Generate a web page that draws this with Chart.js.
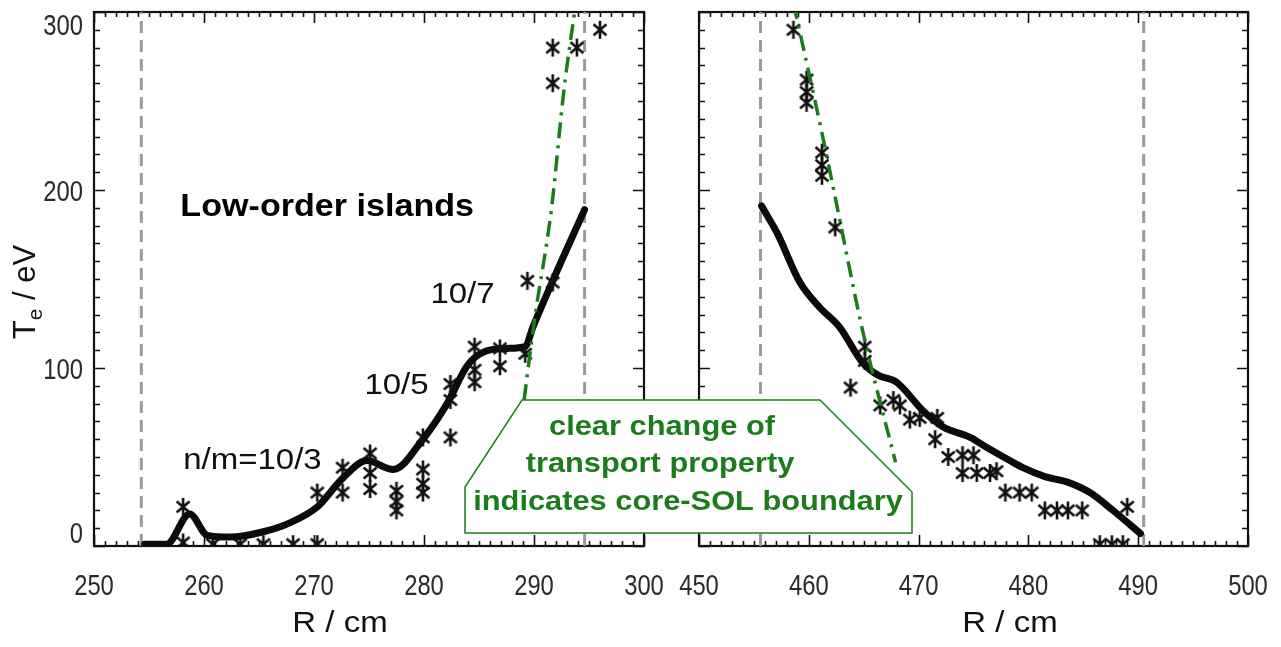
<!DOCTYPE html>
<html>
<head>
<meta charset="utf-8">
<script src="https://cdn.jsdelivr.net/npm/chart.js@4"></script>
<style>
  html, body { margin: 0; padding: 0; background: #ffffff; }
  #wrap { position: relative; width: 1281px; height: 647px; }
  #wrap canvas { position: absolute; left: 0; top: 0; }
</style>
</head>
<body>
<div id="wrap">
  <canvas id="left-chart" width="1281" height="647"></canvas>
  <canvas id="right-chart" width="1281" height="647"></canvas>
</div>
<script>
// ---- data (R in cm, Te in eV) ----
// left (high-field side) panel
const leftFitR  = [254.6, 256.6, 258.7, 260.3, 262.4, 265.4, 267.8, 270.3, 272.6, 274.8, 277.2, 279.9, 282.1, 283.9, 285.1, 287.5, 289.2, 289.9, 291.7, 294.6];
const leftFitTe = [1, 1, 18, 6, 5, 8, 13, 22, 38, 48, 43, 60, 80, 101, 108, 111, 112, 123, 149, 189];

const leftPtsR  = [258.1, 258.1, 260.8, 263.3, 265.4, 268.1, 270.3, 270.3, 272.6, 272.6, 275.1, 275.1, 275.1, 277.5, 277.5, 277.5,
                   279.9, 279.9, 279.9, 279.9, 282.4, 282.4, 282.4, 284.6, 284.6, 284.6, 286.9, 286.9, 289.2, 289.4, 291.7, 291.7, 291.7, 293.9, 296.0];
const leftPtsTe = [22, 2, 1, 1, 1, 1, 1, 30, 44, 30, 52, 41, 32, 31, 25, 20,
                   61, 43, 35, 30, 91, 82, 61, 112, 99, 92, 111, 101, 108, 149, 148, 260, 280, 280, 290];

const leftEdgeR  = [289.1, 290.0, 291.6, 292.7, 293.8];
const leftEdgeTe = [82, 125, 190, 255, 305];

const leftBounds = [254.3, 294.6];

// right (low-field side) panel
const rightFitR  = [455.7, 457.1, 459.2, 461.0, 462.8, 464.9, 466.3, 468.0, 470.4, 472.2, 474.7, 476.3, 478.3, 479.5, 481.5, 483.5, 485.6, 487.7, 490.2];
const rightFitTe = [191, 176, 148, 134, 123, 103, 96, 92, 76, 67, 61, 55, 48, 44, 39, 36, 30, 20, 7];

const rightPtsR  = [458.6, 459.8, 459.8, 459.8, 461.2, 461.2, 461.2, 462.4, 463.8, 465.1, 465.1, 466.5, 467.7, 468.3, 469.2, 470.1,
                    471.7, 471.5, 472.7, 474.0, 475.0, 474.0, 475.3, 476.5, 477.1, 477.9, 479.2, 480.3, 481.5, 482.6, 483.6, 484.9,
                    486.5, 487.6, 488.6, 489.0];
const rightPtsTe = [290, 262, 255, 249, 221, 214, 208, 179, 89, 112, 104, 79, 82, 79, 71, 72,
                    72, 60, 50, 51, 51, 41, 41, 41, 42, 30, 30, 30, 20, 20, 20, 20,
                    1, 1, 1, 22];

const rightEdgeR  = [458.6, 461.2, 462.4, 464.9, 467.9];
const rightEdgeTe = [305, 232, 196, 121, 47];

const rightBounds = [455.6, 490.5];

// axes
const leftRange  = [250, 300];
const rightRange = [450, 500];
const teRange    = [0, 300];

// ---- helpers ----
const GREEN = '#1a7d1a';
const TEXT_FONT = "'Liberation Sans', Arial, sans-serif";

function toXY(xs, ys) {
    return xs.map((x, i) => ({ x: x, y: ys[i] }));
}

// IDL-like asterisk symbol (vertical bar + cross)
function makeAsterisk() {
    const c = document.createElement('canvas');
    c.width = 16; c.height = 20;
    const g = c.getContext('2d');
    g.strokeStyle = '#111';
    g.lineWidth = 2.6;
    g.beginPath();
    g.moveTo(8, 1); g.lineTo(8, 19);
    g.moveTo(1.5, 4.5); g.lineTo(14.5, 15.5);
    g.moveTo(14.5, 4.5); g.lineTo(1.5, 15.5);
    g.stroke();
    return c;
}
const asterisk = makeAsterisk();

// text in the figure is stretched horizontally, so scale it a bit
function drawText(ctx, text, x, y, font, color, align, stretch) {
    ctx.save();
    ctx.translate(x, y);
    ctx.scale(stretch || 1.1, 1);
    ctx.font = font;
    ctx.fillStyle = color;
    ctx.textAlign = align || 'center';
    ctx.textBaseline = 'middle';
    ctx.fillText(text, 0, 0);
    ctx.restore();
}

// box frame with inward ticks on all four sides + narrow tick labels
const frameTicks = {
    id: 'frameTicks',
    beforeDatasetsDraw(chart, args, opts) {
        const { ctx, chartArea: a, scales: { x, y } } = chart;
        ctx.save();
        ctx.strokeStyle = '#111';
        ctx.lineWidth = 1.6;
        ctx.beginPath();
        for (let v = x.min; v <= x.max + 1e-6; v += 1) {
            const px = Math.round(x.getPixelForValue(v)) + 0.5;
            const len = Math.round(v) % 10 === 0 ? 11 : 5;
            ctx.moveTo(px, a.bottom); ctx.lineTo(px, a.bottom - len);
            ctx.moveTo(px, a.top); ctx.lineTo(px, a.top + len);
        }
        for (let v = y.min; v <= y.max + 1e-6; v += 10) {
            const py = Math.round(y.getPixelForValue(v)) + 0.5;
            const len = Math.round(v) % 100 === 0 ? 11 : 6;
            ctx.moveTo(a.left, py); ctx.lineTo(a.left + len, py);
            ctx.moveTo(a.right, py); ctx.lineTo(a.right - len, py);
        }
        ctx.stroke();
        ctx.lineWidth = 2.2;
        ctx.strokeRect(a.left, a.top, a.right - a.left, a.bottom - a.top);
        ctx.restore();

        // tick labels from the library's own tick list
        const f = `29px ${TEXT_FONT}`;
        x.ticks.forEach(t => {
            drawText(ctx, String(t.value), x.getPixelForValue(t.value), a.bottom + 41, f, '#2a2a2a', 'center', 0.82);
        });
        if (opts.yLabels) {
            y.ticks.forEach(t => {
                let off = 3;
                if (t.value === y.max) off = 15;
                if (t.value === y.min) off = -11;
                drawText(ctx, String(t.value), a.left - 11, y.getPixelForValue(t.value) + off, f, '#2a2a2a', 'right', 0.82);
            });
        }
    }
};

// annotations of the left panel
const leftNotes = {
    id: 'leftNotes',
    afterDraw(chart) {
        const { ctx, scales: { x, y } } = chart;
        drawText(ctx, 'Low-order islands', x.getPixelForValue(271.2), y.getPixelForValue(190), `bold 31px ${TEXT_FONT}`, '#000');
        drawText(ctx, 'n/m=10/3', x.getPixelForValue(264.4), y.getPixelForValue(48), `30px ${TEXT_FONT}`, '#111');
        drawText(ctx, '10/5', x.getPixelForValue(277.5), y.getPixelForValue(90), `30px ${TEXT_FONT}`, '#111');
        drawText(ctx, '10/7', x.getPixelForValue(283.5), y.getPixelForValue(141), `30px ${TEXT_FONT}`, '#111');

        // axis titles
        drawText(ctx, 'R / cm', 340, 624, `30px ${TEXT_FONT}`, '#111');

        // Te / eV, rotated, with subscript
        ctx.save();
        ctx.translate(35, 292);
        ctx.rotate(-Math.PI / 2);
        ctx.fillStyle = '#111';
        ctx.textBaseline = 'alphabetic';
        ctx.font = `31px ${TEXT_FONT}`;
        const wT = ctx.measureText('T').width;
        ctx.font = `21px ${TEXT_FONT}`;
        const wE = ctx.measureText('e').width;
        ctx.font = `31px ${TEXT_FONT}`;
        const wRest = ctx.measureText(' / eV').width;
        let cx = -(wT + wE + wRest) / 2;
        ctx.fillText('T', cx, 0);
        cx += wT;
        ctx.font = `21px ${TEXT_FONT}`;
        ctx.fillText('e', cx, 7);
        cx += wE;
        ctx.font = `31px ${TEXT_FONT}`;
        ctx.fillText(' / eV', cx, 0);
        ctx.restore();
    }
};

// green call-out box spanning both panels (drawn by the top chart)
const boundaryNote = {
    id: 'boundaryNote',
    afterDraw(chart) {
        const ctx = chart.ctx;
        ctx.save();
        ctx.beginPath();
        ctx.moveTo(465, 533);
        ctx.lineTo(465, 487);
        ctx.lineTo(522, 400);
        ctx.lineTo(820, 400);
        ctx.lineTo(912, 492);
        ctx.lineTo(912, 533);
        ctx.closePath();
        ctx.fillStyle = '#ffffff';
        ctx.fill();
        ctx.strokeStyle = GREEN;
        ctx.lineWidth = 1.5;
        ctx.stroke();
        ctx.restore();

        const f = `bold 28px ${TEXT_FONT}`;
        drawText(ctx, 'clear change of', 662, 427, f, GREEN);
        drawText(ctx, 'transport property', 660, 464, f, GREEN);
        drawText(ctx, 'indicates core-SOL boundary', 688, 502, f, GREEN);

        drawText(ctx, 'R / cm', 1010, 624, `30px ${TEXT_FONT}`, '#111');
    }
};

function boundLine(r) {
    return {
        type: 'line',
        data: [{ x: r, y: teRange[0] }, { x: r, y: teRange[1] }],
        borderColor: '#9a9a9a',
        borderWidth: 3,
        borderDash: [12, 7],
        pointRadius: 0,
        order: 4
    };
}

function buildDatasets(fitR, fitTe, ptsR, ptsTe, edgeR, edgeTe, bounds) {
    return [
        boundLine(bounds[0]),
        boundLine(bounds[1]),
        {
            type: 'line',
            data: toXY(fitR, fitTe),
            borderColor: '#0b0b0b',
            borderWidth: 7,
            borderCapStyle: 'round',
            borderJoinStyle: 'round',
            cubicInterpolationMode: 'monotone',
            pointRadius: 0,
            order: 3
        },
        {
            type: 'scatter',
            data: toXY(ptsR, ptsTe),
            pointStyle: asterisk,
            pointRadius: 8,
            clip: 0,
            order: 2
        },
        {
            type: 'line',
            data: toXY(edgeR, edgeTe),
            borderColor: GREEN,
            borderWidth: 3.5,
            borderDash: [16, 7, 3, 7],
            cubicInterpolationMode: 'monotone',
            pointRadius: 0,
            clip: 0,
            order: 1
        }
    ];
}

// chart area is pinned: top 12, bottom 546, left/right given per panel
function buildOptions(range, areaLeft, padRight, showYLabels) {
    return {
        responsive: false,
        animation: false,
        events: [],
        layout: { padding: { top: 12, right: padRight, left: 0, bottom: 0 } },
        plugins: {
            legend: { display: false },
            tooltip: { enabled: false },
            frameTicks: { yLabels: showYLabels }
        },
        scales: {
            x: {
                type: 'linear',
                min: range[0],
                max: range[1],
                grid: { display: false, drawTicks: false },
                border: { display: false },
                ticks: { display: false, stepSize: 10, autoSkip: false },
                afterFit(scale) {
                    scale.height = 101;
                    scale.paddingLeft = 0;
                    scale.paddingRight = 0;
                }
            },
            y: {
                type: 'linear',
                min: teRange[0],
                max: teRange[1],
                grid: { display: false, drawTicks: false },
                border: { display: false },
                ticks: { display: false, stepSize: 100 },
                afterFit(scale) {
                    scale.width = areaLeft;
                    scale.paddingTop = 0;
                    scale.paddingBottom = 0;
                }
            }
        }
    };
}

const leftChart = new Chart(document.getElementById('left-chart'), {
    type: 'scatter',
    data: { datasets: buildDatasets(leftFitR, leftFitTe, leftPtsR, leftPtsTe, leftEdgeR, leftEdgeTe, leftBounds) },
    options: buildOptions(leftRange, 94, 637, true),
    plugins: [frameTicks, leftNotes]
});

const rightChart = new Chart(document.getElementById('right-chart'), {
    type: 'scatter',
    data: { datasets: buildDatasets(rightFitR, rightFitTe, rightPtsR, rightPtsTe, rightEdgeR, rightEdgeTe, rightBounds) },
    options: buildOptions(rightRange, 699, 33, false),
    plugins: [frameTicks, boundaryNote]
});
</script>
</body>
</html>
